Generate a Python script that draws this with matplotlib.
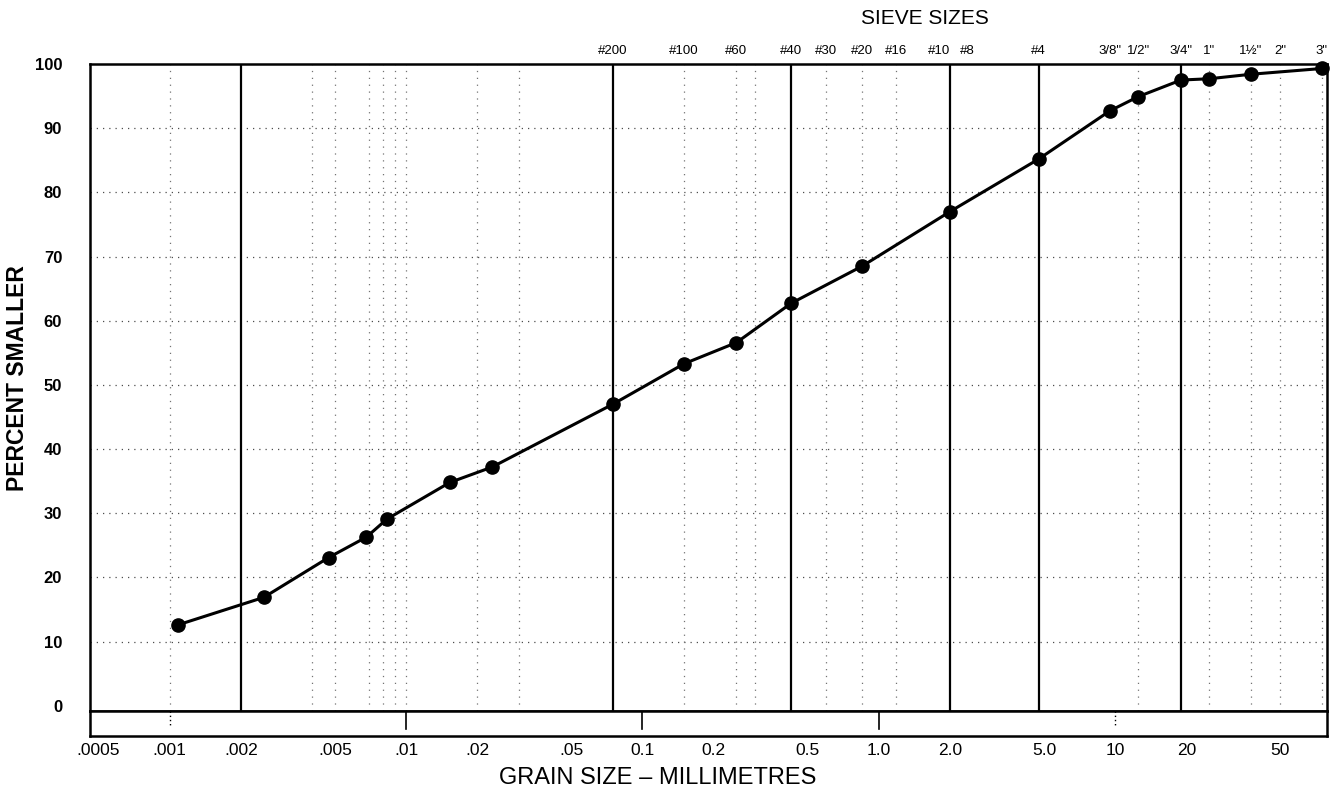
import matplotlib
matplotlib.use("Agg")
import matplotlib.pyplot as plt
import matplotlib.transforms as mtransforms

plt.rcParams['font.family'] = ['Liberation Sans', 'DejaVu Sans']

# Grain size distribution (hydrometer + sieve analysis)
grain_size_mm = [0.00108, 0.0025, 0.0047, 0.0068, 0.0083, 0.0153, 0.0231,
                 0.075, 0.15, 0.25, 0.425, 0.85, 2.0, 4.75, 9.5, 12.5,
                 19.0, 25.0, 37.5, 75.0]
percent_smaller = [12.6, 16.9, 23.1, 26.3, 29.1, 34.8, 37.2,
                   47.0, 53.3, 56.6, 62.7, 68.5, 77.0, 85.2, 92.7, 94.9,
                   97.5, 97.7, 98.4, 99.3]

# Sieve designations along the top edge
sieve_labels = ['#200', '#100', '#60', '#40', '#30', '#20', '#16', '#10', '#8',
                '#4', '3/8"', '1/2"', '3/4"', '1"', '1½"', '2"', '3"']
sieve_mm = [0.075, 0.15, 0.25, 0.425, 0.6, 0.85, 1.18, 2.0, 2.36,
            4.75, 9.5, 12.5, 19.0, 25.0, 37.5, 50.0, 75.0]

# Heavy boundary lines (clay/silt/sand/gravel divisions)
boundary_mm = [0.002, 0.075, 0.425, 2.0, 4.75, 19.0]

# Light dotted grid positions
dotted_x_mm = [0.001, 0.004, 0.005, 0.007, 0.008, 0.009, 0.01, 0.02, 0.03,
               0.15, 0.25, 0.3, 0.6, 0.85, 1.18, 12.5, 25.0, 37.5, 50.0, 75.0]
dotted_y = [10, 20, 30, 40, 50, 60, 70, 80, 90]

# Bottom scale
x_tick_values = [0.0005, 0.001, 0.002, 0.005, 0.01, 0.02, 0.05, 0.1, 0.2,
                 0.5, 1.0, 2.0, 5.0, 10, 20, 50]
x_tick_labels = ['.0005', '.001', '.002', '.005', '.01', '.02', '.05', '0.1',
                 '0.2', '0.5', '1.0', '2.0', '5.0', '10', '20', '50']
strip_solid_mm = [0.01, 0.1, 1.0]
strip_dotted_mm = [0.001, 10.0]

y_ticks = [0, 10, 20, 30, 40, 50, 60, 70, 80, 90, 100]

W, H = 1334, 791
fig = plt.figure(figsize=(W / 100, H / 100), dpi=100)
fig.patch.set_facecolor('white')

left_px, right_px = 90, 1326.5
top_px, bottom_px = 64, 711
strip_bottom_px = 736
XMIN, XMAX = 0.00046, 78.4

ax = fig.add_axes([left_px / W, 1 - bottom_px / H,
                   (right_px - left_px) / W, (bottom_px - top_px) / H])
ax.set_xscale('log')
ax.set_xlim(XMIN, XMAX)
ax.set_ylim(-0.8, 100)

for s in ax.spines.values():
    s.set_linewidth(1.8)
    s.set_color('black')

# dotted grid
for yv in dotted_y:
    ax.axhline(yv, color='0.3', lw=0.9, ls=(0, (1, 4)), zorder=1)
for xv in dotted_x_mm:
    ax.axvline(xv, color='0.45', lw=0.9, ls=(0, (1, 4.5)), zorder=1)

# heavy division lines
for xv in boundary_mm:
    ax.axvline(xv, color='black', lw=1.6, zorder=2)

# grading curve
ax.plot(grain_size_mm, percent_smaller, color='black', lw=2.2,
        marker='o', markersize=9.5, markerfacecolor='black',
        markeredgecolor='black', zorder=4, clip_on=False)

ax.set_xticks([])
ax.set_xticks([], minor=True)
ax.set_yticks(y_ticks)
ax.set_yticklabels([str(v) for v in y_ticks])
ax.tick_params(axis='y', length=0, pad=20, labelsize=12)
for lbl in ax.get_yticklabels():
    lbl.set_fontweight('bold')

# sieve labels along the top; the crowded #10 label sits left of its line
trans_top = mtransforms.blended_transform_factory(ax.transData, ax.transAxes)
offset = mtransforms.ScaledTranslation(0, 7 / 100, fig.dpi_scale_trans)
for lab, d in zip(sieve_labels, sieve_mm):
    ha = 'right' if lab == '#10' else 'center'
    ax.text(d, 1.0, lab, transform=trans_top + offset, ha=ha,
            va='bottom', fontsize=9.5)

# bottom scale strip
sax = fig.add_axes([left_px / W, 1 - strip_bottom_px / H,
                    (right_px - left_px) / W, (strip_bottom_px - bottom_px) / H])
sax.set_xscale('log')
sax.set_xlim(XMIN, XMAX)
sax.set_ylim(0, 1)
for s in sax.spines.values():
    s.set_linewidth(1.8)
for xv in strip_solid_mm:
    sax.plot([xv, xv], [1, 0.3], color='black', lw=1.2)
for xv in strip_dotted_mm:
    sax.plot([xv, xv], [1, 0.4], color='black', lw=1.0, ls=(0, (1, 2)))
sax.set_yticks([])
sax.set_xticks(x_tick_values)
sax.set_xticklabels(x_tick_labels)
sax.set_xticks([], minor=True)
sax.tick_params(axis='x', length=0, pad=5, labelsize=12.5)

fig.text(18 / W, 1 - 378 / H, 'PERCENT SMALLER', rotation=90,
         ha='center', va='center', fontsize=16.5, fontweight='bold')
fig.text(658 / W, 1 - 778 / H, 'GRAIN SIZE – MILLIMETRES',
         ha='center', va='center', fontsize=17)
fig.text(925 / W, 1 - 19 / H, 'SIEVE SIZES', ha='center', va='center',
         fontsize=15)

fig.savefig('out.png', dpi=100)
